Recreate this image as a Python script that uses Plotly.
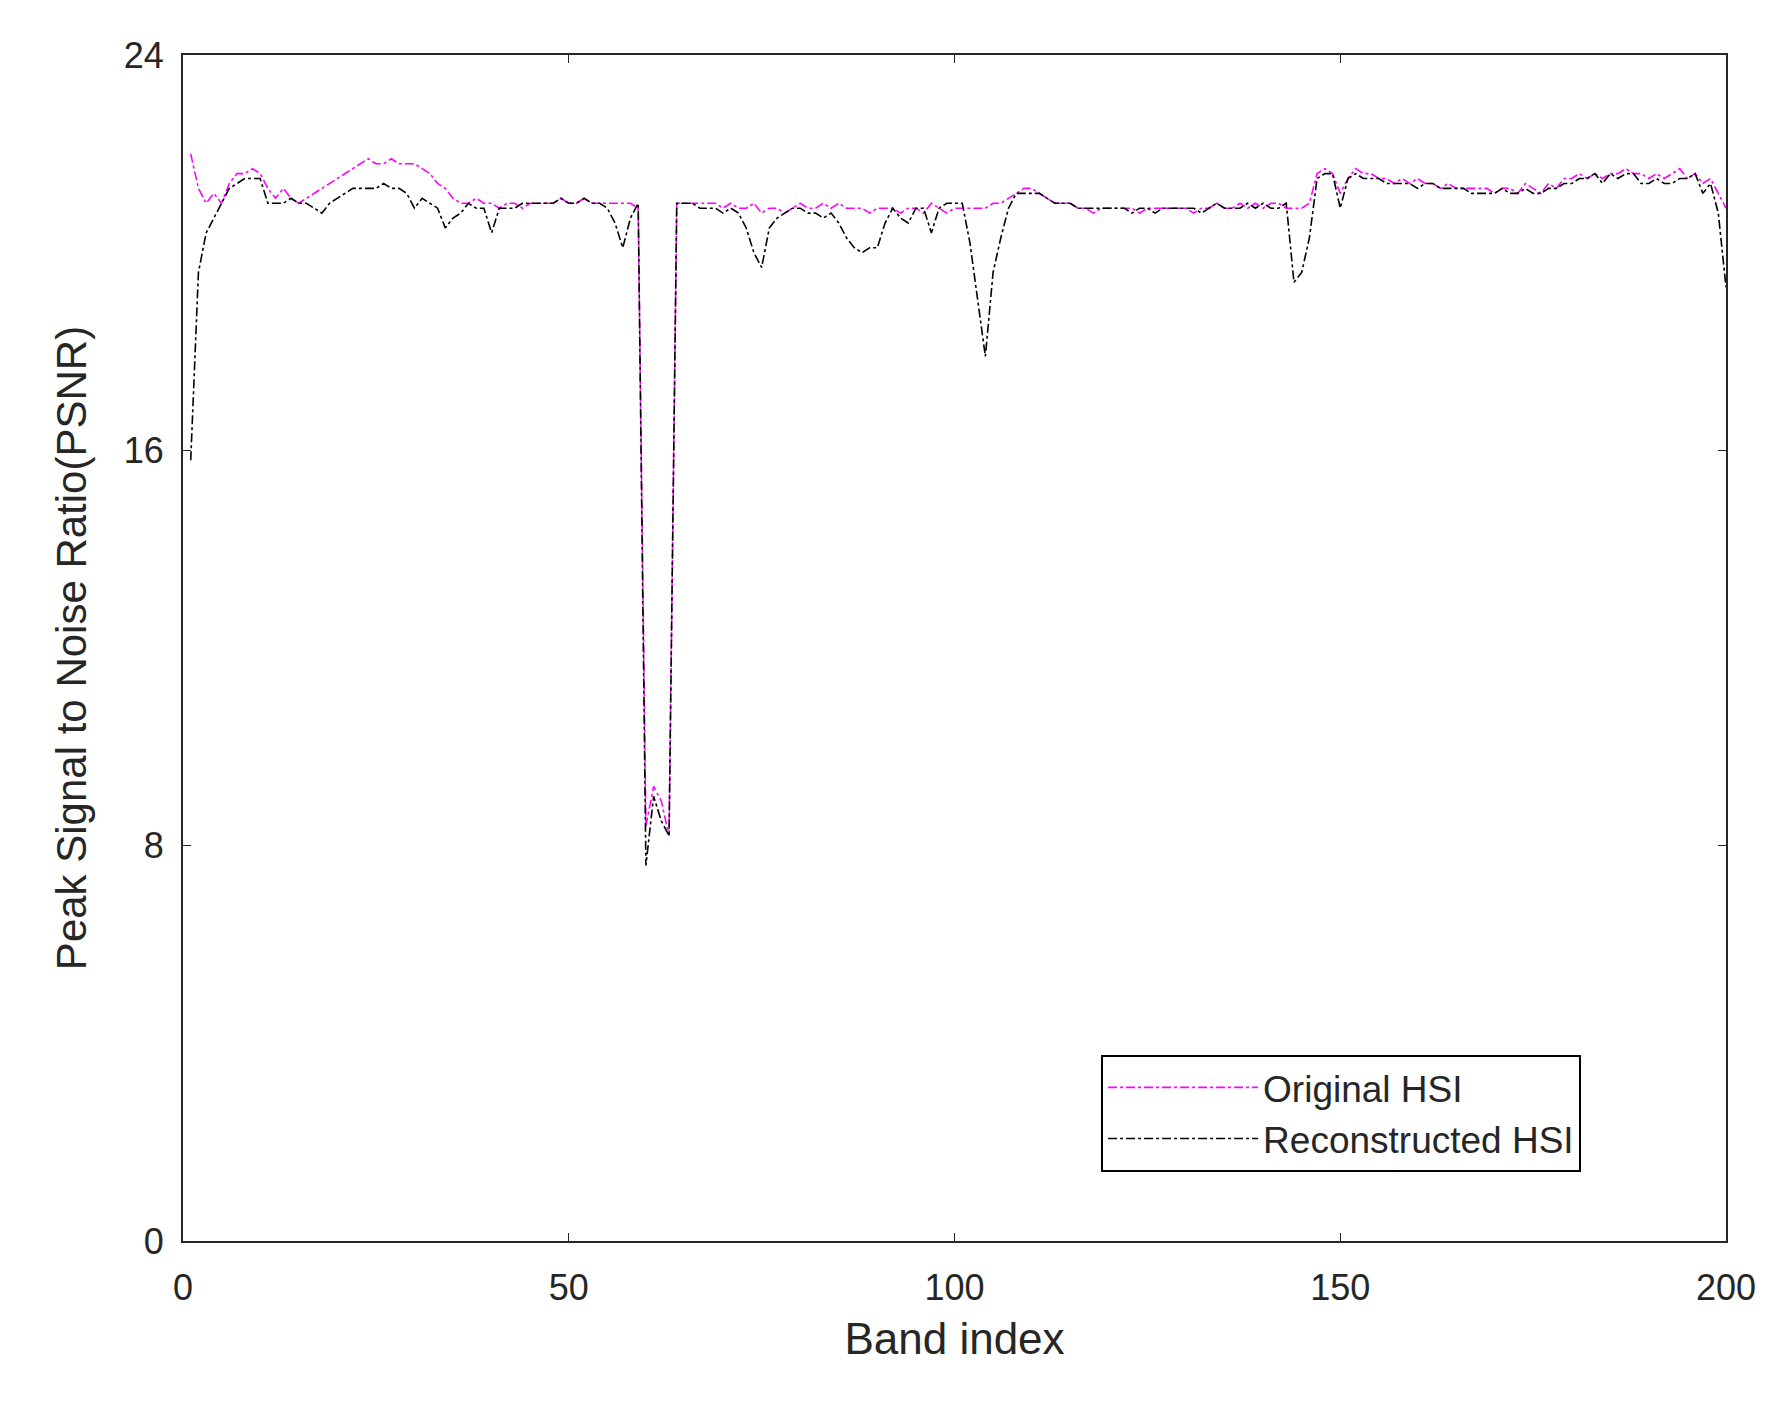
import plotly.graph_objects as go

bands = list(range(1, 201))

original = [
    22.0, 21.3, 21.0, 21.2, 21.0, 21.4, 21.6, 21.6, 21.7, 21.6,
    21.3, 21.1, 21.3, 21.1, 21.0, 21.1, 21.2, 21.3, 21.4, 21.5,
    21.6, 21.7, 21.8, 21.9, 21.8, 21.8, 21.9, 21.8, 21.8, 21.8,
    21.7, 21.6, 21.4, 21.3, 21.1, 21.0, 21.0, 21.1, 21.0, 21.0,
    20.9, 21.0, 21.0, 20.9, 21.0, 21.0, 21.0, 21.0, 21.1, 21.0,
    21.0, 21.1, 21.0, 21.0, 21.0, 21.0, 21.0, 21.0, 20.9, 8.4,
    9.2, 8.9, 8.2, 21.0, 21.0, 21.0, 21.0, 21.0, 21.0, 20.9,
    21.0, 20.9, 20.9, 21.0, 20.8, 20.9, 20.9, 20.8, 20.9, 21.0,
    20.9, 20.9, 21.0, 20.9, 21.0, 20.9, 20.9, 20.9, 20.8, 20.9,
    20.9, 20.9, 20.8, 20.9, 20.9, 20.8, 21.0, 20.9, 20.8, 20.9,
    20.9, 20.9, 20.9, 20.9, 21.0, 21.0, 21.1, 21.2, 21.3, 21.3,
    21.2, 21.1, 21.0, 21.0, 21.0, 20.9, 20.9, 20.8, 20.9, 20.9,
    20.9, 20.9, 20.9, 20.8, 20.9, 20.9, 20.9, 20.9, 20.9, 20.9,
    20.8, 20.9, 20.9, 21.0, 20.9, 20.9, 21.0, 20.9, 21.0, 20.9,
    21.0, 21.0, 20.9, 20.9, 20.9, 21.0, 21.6, 21.7, 21.6, 21.2,
    21.5, 21.7, 21.6, 21.6, 21.5, 21.5, 21.4, 21.5, 21.4, 21.5,
    21.4, 21.4, 21.3, 21.4, 21.3, 21.3, 21.3, 21.3, 21.3, 21.2,
    21.3, 21.3, 21.2, 21.4, 21.3, 21.2, 21.4, 21.3, 21.5, 21.5,
    21.6, 21.5, 21.6, 21.5, 21.6, 21.6, 21.7, 21.6, 21.6, 21.5,
    21.6, 21.5, 21.6, 21.7, 21.5, 21.6, 21.4, 21.5, 21.2, 20.9,
]

reconstructed = [
    15.8, 19.6, 20.4, 20.7, 21.0, 21.3, 21.4, 21.5, 21.5, 21.5,
    21.0, 21.0, 21.0, 21.1, 21.0, 21.0, 20.9, 20.8, 21.0, 21.1,
    21.2, 21.3, 21.3, 21.3, 21.3, 21.4, 21.3, 21.3, 21.2, 20.9,
    21.1, 21.0, 20.9, 20.5, 20.7, 20.8, 21.0, 20.9, 20.9, 20.4,
    20.9, 20.9, 20.9, 21.0, 21.0, 21.0, 21.0, 21.0, 21.1, 21.0,
    21.0, 21.1, 21.0, 21.0, 20.9, 20.6, 20.1, 20.7, 21.0, 7.6,
    9.0, 8.5, 8.2, 21.0, 21.0, 21.0, 20.9, 20.9, 20.9, 20.8,
    20.9, 20.8, 20.5, 20.0, 19.7, 20.5, 20.7, 20.8, 20.9, 20.9,
    20.8, 20.8, 20.7, 20.8, 20.6, 20.3, 20.1, 20.0, 20.1, 20.1,
    20.6, 20.9, 20.7, 20.6, 20.9, 20.9, 20.4, 20.9, 21.0, 21.0,
    21.0, 20.2, 19.0, 17.9, 19.6, 20.3, 20.9, 21.2, 21.2, 21.2,
    21.2, 21.1, 21.0, 21.0, 21.0, 20.9, 20.9, 20.9, 20.9, 20.9,
    20.9, 20.9, 20.8, 20.9, 20.9, 20.8, 20.9, 20.9, 20.9, 20.9,
    20.9, 20.8, 20.9, 21.0, 20.9, 20.9, 20.9, 21.0, 20.9, 21.0,
    20.9, 20.9, 21.0, 19.4, 19.6, 20.3, 21.5, 21.6, 21.6, 20.9,
    21.5, 21.6, 21.5, 21.5, 21.5, 21.4, 21.4, 21.4, 21.4, 21.3,
    21.4, 21.4, 21.3, 21.3, 21.3, 21.3, 21.2, 21.2, 21.2, 21.2,
    21.3, 21.2, 21.2, 21.3, 21.2, 21.2, 21.3, 21.3, 21.4, 21.4,
    21.5, 21.5, 21.6, 21.4, 21.6, 21.5, 21.6, 21.6, 21.4, 21.4,
    21.5, 21.4, 21.4, 21.5, 21.5, 21.6, 21.2, 21.4, 20.8, 19.3,
]

x_ticks = [0, 50, 100, 150, 200]
y_ticks = [0, 8, 16, 24]

fig = go.Figure()
fig.add_trace(go.Scatter(x=bands, y=original, mode='lines', name='Original HSI',
                         line=dict(color='#ff00ff', width=1.6, dash='dashdot')))
fig.add_trace(go.Scatter(x=bands, y=reconstructed, mode='lines', name='Reconstructed HSI',
                         line=dict(color='black', width=1.6, dash='dashdot')))

axis_style = dict(showgrid=False, zeroline=False, showline=True, linecolor='#262626',
                  linewidth=2, mirror='ticks', ticks='inside', ticklen=8,
                  tickcolor='#262626', tickfont=dict(size=36, color='#262626'))
fig.update_xaxes(range=[0, 200], tickvals=x_ticks, ticklabelstandoff=14,
                 title=dict(text='Band index', font=dict(size=44, color='#262626'), standoff=16),
                 **axis_style)
fig.update_yaxes(range=[0, 24], tickvals=y_ticks, ticklabelstandoff=10,
                 title=dict(text='Peak Signal to Noise Ratio(PSNR)', font=dict(size=42, color='#262626'), standoff=24),
                 **axis_style)

fig.update_layout(
    width=1792, height=1405,
    paper_bgcolor='white', plot_bgcolor='white',
    font=dict(family='Liberation Sans, Arial, sans-serif'),
    margin=dict(l=175, r=74, t=47, b=172),
    legend=dict(x=0.595, y=0.157, xanchor='left', yanchor='top',
                bordercolor='black', borderwidth=2, bgcolor='white',
                itemwidth=150, tracegroupgap=4,
                font=dict(size=37, color='#262626')),
)

fig.write_html("out.html")
